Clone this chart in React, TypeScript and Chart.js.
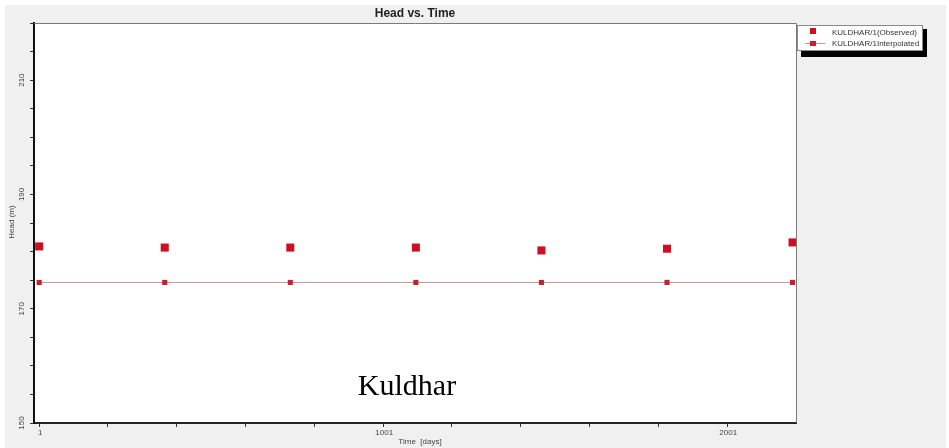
import React, { useEffect, useRef } from 'react';
import { Chart, registerables } from 'chart.js';

Chart.register(...registerables);

const chartTitle = 'Head vs. Time';
const xAxisTitle = 'Time  [days]';
const yAxisTitle = 'Head (m)';
const caption = 'Kuldhar';
const seriesNames = ['KULDHAR/1(Observed)', 'KULDHAR/1Interpolated'];

const days = [1, 366, 731, 1096, 1461, 1826, 2191];
const observedHead = [180.9, 180.7, 180.7, 180.7, 180.2, 180.5, 181.6];
const interpolatedHead = [174.6, 174.6, 174.6, 174.6, 174.6, 174.6, 174.6];

const xTickMarks = [1, 201, 401, 601, 801, 1001, 1201, 1401, 1601, 1801, 2001];
const xTickLabels = [1, 1001, 2001];
const yTickMarks = [150, 155, 160, 165, 170, 175, 180, 185, 190, 195, 200, 205, 210, 215, 220];
const yTickLabels = [150, 170, 190, 210];

const OBS_COLOR = '#cc0f22';
const INT_COLOR = '#c8202c';
const INT_LINE = '#c49393';

const decorPlugin = {
  id: 'decor',
  beforeDraw(chart: any) {
    const { ctx, width, height, chartArea } = chart;
    ctx.save();
    ctx.fillStyle = '#ffffff';
    ctx.fillRect(0, 0, width, height);
    ctx.fillStyle = '#f0f0f0';
    ctx.fillRect(5, 5, 941, height - 5);
    ctx.fillStyle = '#ffffff';
    ctx.fillRect(chartArea.left, chartArea.top, chartArea.right - chartArea.left, chartArea.bottom - chartArea.top);
    ctx.restore();
  },
  afterDraw(chart: any) {
    const { ctx, chartArea } = chart;
    const xs = chart.scales.x;
    const ys = chart.scales.y;
    ctx.save();
    // top and right plot borders
    ctx.strokeStyle = '#7a7a7a';
    ctx.lineWidth = 1;
    ctx.beginPath();
    ctx.moveTo(chartArea.left, chartArea.top + 0.5);
    ctx.lineTo(chartArea.right + 0.5, chartArea.top + 0.5);
    ctx.lineTo(chartArea.right + 0.5, chartArea.bottom);
    ctx.stroke();

    // title
    ctx.fillStyle = '#222222';
    ctx.font = 'bold 12px "Liberation Sans", Arial, sans-serif';
    ctx.textAlign = 'center';
    ctx.textBaseline = 'middle';
    ctx.fillText(chartTitle, (chartArea.left + chartArea.right) / 2, 14);

    // y tick labels (rotated)
    ctx.fillStyle = '#444444';
    ctx.font = '8px "Liberation Sans", Arial, sans-serif';
    yTickLabels.forEach((v) => {
      const y = ys.getPixelForValue(v);
      ctx.save();
      ctx.translate(22, y);
      ctx.rotate(-Math.PI / 2);
      ctx.textAlign = 'center';
      ctx.textBaseline = 'middle';
      ctx.fillText(String(v), 0, 0);
      ctx.restore();
    });

    // y axis title
    ctx.save();
    ctx.translate(12, (chartArea.top + chartArea.bottom) / 2 - 1);
    ctx.rotate(-Math.PI / 2);
    ctx.textAlign = 'center';
    ctx.textBaseline = 'middle';
    ctx.fillText(yAxisTitle, 0, 0);
    ctx.restore();

    // x tick labels
    ctx.textAlign = 'center';
    ctx.textBaseline = 'middle';
    xTickLabels.forEach((v) => {
      const x = xs.getPixelForValue(v);
      ctx.fillText(String(v), x + 1, 433);
    });
    ctx.fillText(xAxisTitle, 420, 442);

    // legend
    const lx = 797, ly = 25, lw = 126, lh = 26;
    ctx.fillStyle = '#000000';
    ctx.fillRect(lx + 4, ly + 4, lw, lh + 2);
    ctx.fillStyle = '#ffffff';
    ctx.fillRect(lx, ly, lw, lh);
    ctx.strokeStyle = '#8a8a8a';
    ctx.lineWidth = 1;
    ctx.strokeRect(lx + 0.5, ly + 0.5, lw - 1, lh - 1);
    // observed marker
    ctx.fillStyle = OBS_COLOR;
    ctx.fillRect(810, 28, 6, 6);
    // interpolated line + marker
    ctx.strokeStyle = INT_LINE;
    ctx.beginPath();
    ctx.moveTo(805, 43.5);
    ctx.lineTo(825, 43.5);
    ctx.stroke();
    ctx.fillStyle = INT_COLOR;
    ctx.fillRect(810, 41, 6, 5);
    ctx.fillStyle = '#333333';
    ctx.font = '8px "Liberation Sans", Arial, sans-serif';
    ctx.textAlign = 'left';
    ctx.textBaseline = 'middle';
    ctx.fillText(seriesNames[0], 832, 32.5);
    ctx.fillText(seriesNames[1], 832, 43.5);

    // caption
    ctx.fillStyle = '#000000';
    ctx.font = '30px "Liberation Serif", "DejaVu Serif", serif';
    ctx.textAlign = 'center';
    ctx.textBaseline = 'alphabetic';
    ctx.fillText(caption, 407, 395);
    ctx.restore();
  },
};

export default function App() {
  const canvasRef = useRef<HTMLCanvasElement | null>(null);

  useEffect(() => {
    document.body.style.margin = '0';
    const canvas = canvasRef.current;
    if (!canvas) return;
    const chart = new Chart(canvas, {
      type: 'scatter',
      data: {
        datasets: [
          {
            label: seriesNames[0],
            data: days.map((d, i) => ({ x: d, y: observedHead[i] })),
            pointStyle: 'rect',
            pointRadius: 5.7,
            pointBackgroundColor: OBS_COLOR,
            pointBorderColor: OBS_COLOR,
            pointBorderWidth: 0,
            showLine: false,
          },
          {
            label: seriesNames[1],
            data: days.map((d, i) => ({ x: d, y: interpolatedHead[i] })),
            pointStyle: 'rect',
            pointRadius: 3.6,
            pointBackgroundColor: INT_COLOR,
            pointBorderColor: INT_COLOR,
            pointBorderWidth: 0,
            borderColor: INT_LINE,
            borderWidth: 1,
            showLine: true,
          },
        ],
      },
      options: {
        responsive: false,
        animation: false,
        devicePixelRatio: 1,
        layout: { padding: { left: 0, top: 23, right: 153, bottom: 0 } },
        plugins: {
          legend: { display: false },
          title: { display: false },
          tooltip: { enabled: false },
        },
        scales: {
          x: {
            type: 'linear',
            min: -14,
            max: 2201,
            afterBuildTicks: (scale: any) => {
              scale.ticks = xTickMarks.map((v) => ({ value: v }));
            },
            afterFit: (scale: any) => {
              scale.height = 25;
            },
            ticks: { display: false },
            grid: { drawOnChartArea: false, drawTicks: true, tickLength: 4, color: '#333333' },
            border: { display: true, color: '#222222', width: 2 },
          },
          y: {
            type: 'linear',
            min: 150,
            max: 220,
            afterBuildTicks: (scale: any) => {
              scale.ticks = yTickMarks.map((v) => ({ value: v }));
            },
            afterFit: (scale: any) => {
              scale.width = 34;
            },
            ticks: { display: false },
            grid: { drawOnChartArea: false, drawTicks: true, tickLength: 4, color: '#333333' },
            border: { display: true, color: '#111111', width: 2 },
          },
        },
      },
      plugins: [decorPlugin],
    } as any);
    return () => chart.destroy();
  }, []);

  return (
    <div style={{ position: 'absolute', left: 0, top: 0, width: 949, height: 448 }}>
      <canvas ref={canvasRef} width={949} height={448} style={{ width: 949, height: 448, display: 'block' }} />
    </div>
  );
}
